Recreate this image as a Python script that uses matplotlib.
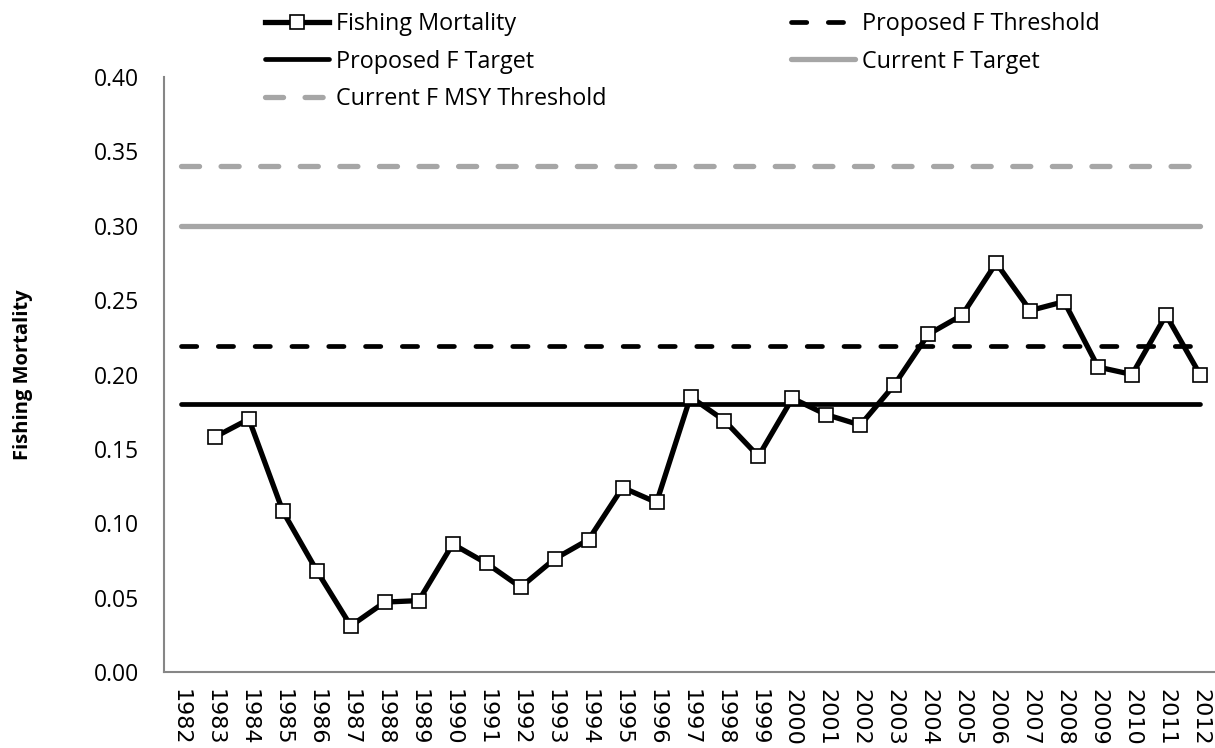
import matplotlib
matplotlib.use("Agg")
import matplotlib.pyplot as plt

years = list(range(1982, 2013))
fm_years = list(range(1983, 2013))
fishing_mortality = [0.158, 0.170, 0.108, 0.068, 0.031, 0.047, 0.048, 0.086, 0.073,
                     0.057, 0.076, 0.089, 0.124, 0.114, 0.185, 0.169, 0.145, 0.184,
                     0.173, 0.166, 0.193, 0.227, 0.240, 0.275, 0.243, 0.249, 0.205,
                     0.200, 0.240, 0.200]
proposed_f_threshold = 0.219
proposed_f_target = 0.18
current_f_target = 0.30
current_f_msy_threshold = 0.34
y_ticks = [0.00, 0.05, 0.10, 0.15, 0.20, 0.25, 0.30, 0.35, 0.40]

plt.rcParams['font.family'] = ['Open Sans', 'DejaVu Sans']
plt.rcParams['lines.scale_dashes'] = False

W, H = 1215, 748
fig = plt.figure(figsize=(W / 100, H / 100), dpi=100)
left, right, top, bottom = 164, 1217, 77, 672
ax = fig.add_axes([left / W, (H - bottom) / H, (right - left) / W, (bottom - top) / H])

n = len(years)
ax.plot(years, [current_f_msy_threshold] * n, color='#A6A6A6', lw=3.8,
        dashes=(13, 15.5), dash_capstyle='round', solid_capstyle='round',
        label='Current F MSY Threshold')
ax.plot(years, [current_f_target] * n, color='#A6A6A6', lw=3.8,
        solid_capstyle='round', label='Current F Target')
ax.plot(years, [proposed_f_threshold] * n, color='black', lw=3.4,
        dashes=(11, 15.5), dash_capstyle='round', label='Proposed F Threshold')
ax.plot(years, [proposed_f_target] * n, color='black', lw=3.4,
        solid_capstyle='round', label='Proposed F Target')
ax.plot(fm_years, fishing_mortality, color='black', lw=3.8, marker='s',
        markersize=9.5, markerfacecolor='white', markeredgecolor='black',
        markeredgewidth=1.2, label='Fishing Mortality', zorder=5)

ax.set_xlim(1981.5, 2012.5)
ax.set_ylim(0, 0.40)
ax.set_yticks(y_ticks)
ax.set_yticklabels([f"{v:.2f}" for v in y_ticks], fontsize=16.5)
ax.set_xticks(years)
ax.set_xticklabels([str(y) for y in years], rotation=270, fontsize=16,
                   family=['DejaVu Sans'])
ax.tick_params(axis='y', length=0, pad=18)
ax.tick_params(axis='x', length=0, pad=12)
for s in ['top', 'right']:
    ax.spines[s].set_visible(False)
for s in ['left', 'bottom']:
    ax.spines[s].set_color('#868686')
    ax.spines[s].set_linewidth(1.5)

ax.set_ylabel('Fishing Mortality', fontsize=14.5, fontweight='bold')
ax.yaxis.set_label_coords((33 - left) / (right - left), 0.5)

h, l = ax.get_legend_handles_labels()
order = ['Fishing Mortality', 'Proposed F Target', 'Current F MSY Threshold',
         'Proposed F Threshold', 'Current F Target']
hd = dict(zip(l, h))
leg = fig.legend([hd[k] for k in order], order, ncol=2, loc='upper left',
                 bbox_to_anchor=(244 / W, 1 + 9 / H), frameon=False, fontsize=16.8,
                 handlelength=2.75, handletextpad=0.3, labelspacing=0.58,
                 columnspacing=7.9)

fig.savefig('out.png', dpi=100)
